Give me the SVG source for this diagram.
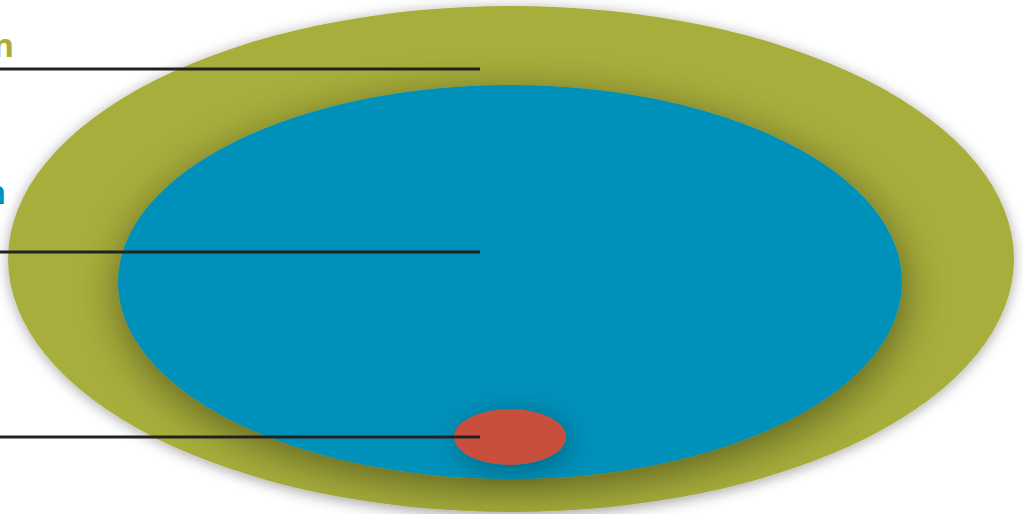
<svg xmlns="http://www.w3.org/2000/svg" width="1023" height="514" viewBox="0 0 1023 514">
<defs>
<filter id="shOuter" x="-10%" y="-10%" width="120%" height="120%">
<feGaussianBlur in="SourceAlpha" stdDeviation="7"/>
<feOffset dx="0" dy="2"/>
<feComponentTransfer><feFuncA type="linear" slope="0.35"/></feComponentTransfer>
<feMerge><feMergeNode/><feMergeNode in="SourceGraphic"/></feMerge>
</filter>
<filter id="shInner" x="-20%" y="-20%" width="140%" height="140%">
<feGaussianBlur in="SourceAlpha" stdDeviation="22"/>
<feOffset dx="2" dy="10"/>
<feComponentTransfer><feFuncA type="linear" slope="0.45"/></feComponentTransfer>
<feMerge><feMergeNode/><feMergeNode in="SourceGraphic"/></feMerge>
</filter>
<filter id="shDot" x="-80%" y="-150%" width="260%" height="400%">
<feGaussianBlur in="SourceAlpha" stdDeviation="16"/>
<feOffset dx="4" dy="6"/>
<feComponentTransfer><feFuncA type="linear" slope="0.3"/></feComponentTransfer>
<feMerge><feMergeNode/><feMergeNode in="SourceGraphic"/></feMerge>
</filter>
</defs>
<style>
.lbl{font-family:"Open Sans","Liberation Sans",sans-serif;font-weight:700;font-size:32px;}
.conn{stroke:#222;stroke-width:2.8;fill:none;}
</style>
<rect width="1023" height="514" fill="#ffffff"/>
<g id="outer">
<ellipse cx="511" cy="259" rx="503" ry="253" fill="#A8AE3A" filter="url(#shOuter)"/>
</g>
<g id="inner">
<ellipse cx="510" cy="282" rx="392" ry="197" fill="#0091BA" filter="url(#shInner)"/>
</g>
<g id="core">
<ellipse cx="510" cy="437" rx="56" ry="28" fill="#C94F3E" filter="url(#shDot)"/>
</g>
<g id="labels">
<text class="lbl" x="14" y="57" text-anchor="end" fill="#A8AE3A">n</text>
<text class="lbl" x="6" y="204" text-anchor="end" fill="#0091BA">n</text>
</g>
<g id="connectors">
<line class="conn" x1="0" y1="69" x2="480" y2="69"/>
<line class="conn" x1="0" y1="252" x2="480" y2="252"/>
<line class="conn" x1="0" y1="437" x2="480" y2="437"/>
</g>
</svg>
